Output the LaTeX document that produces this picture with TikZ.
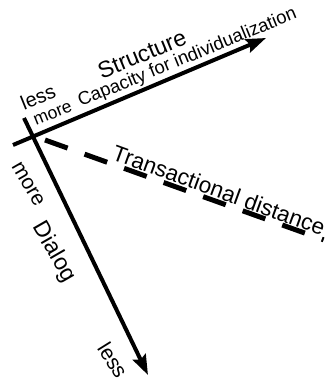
\documentclass[tikz,border=0pt]{standalone}
\usepackage{fontspec}
\setmainfont{Liberation Sans}
\usetikzlibrary{arrows.meta}
\begin{document}
\begin{tikzpicture}[x=1pt,y=1pt,
  lbl/.style={inner sep=0pt},
  axis/.style={line width=4pt,-{Stealth[length=20pt,width=14pt,inset=3pt]}}]
\useasboundingbox (0,0) rectangle (332,-379);
\coordinate (sA) at (13,-145);
\coordinate (sB) at (266,-38);
\coordinate (dA) at (24,-118);
\coordinate (dB) at (148,-375);
\coordinate (tA) at (45,-140);
\coordinate (tB) at (323.6,-239.8);
\draw[axis] (sA) -- (sB);
\draw[axis] (dA) -- (dB);
\draw[line width=5pt,dash pattern=on 24pt off 18pt] (tA) -- (tB);
\node[lbl,rotate=22.5,font=\fontsize{23}{23}\selectfont] (st) at (142,-54) {Structure};
\node[lbl,rotate=22.3,font=\fontsize{18.5}{18.5}\selectfont] (cap) at (187.5,-58) {Capacity for individualization};
\node[lbl,rotate=22,font=\fontsize{17.5}{17.5}\selectfont] (more1) at (53,-114) {more};
\node[lbl,rotate=22,font=\fontsize{20}{20}\selectfont] (less1) at (38,-97) {less};
\node[lbl,rotate=-20,font=\fontsize{22.5}{22.5}\selectfont] (td) at (219,-190) {Transactional distance};
\node[lbl,rotate=-60,font=\fontsize{21}{21}\selectfont] (more2) at (28,-184) {more};
\node[lbl,rotate=-60,font=\fontsize{23}{23}\selectfont] (dia) at (54,-252) {Dialog};
\node[lbl,rotate=-58,font=\fontsize{21}{21}\selectfont] (less2) at (113,-360) {less};
\end{tikzpicture}
\end{document}
